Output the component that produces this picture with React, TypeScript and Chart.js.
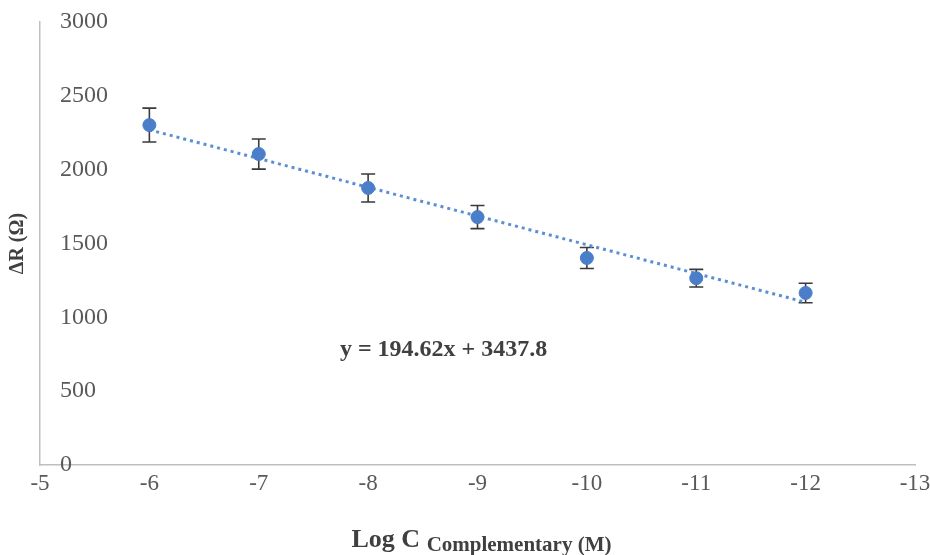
import React, { useEffect, useRef } from "react";
import { Chart, registerables } from "chart.js";

Chart.register(...registerables);

const xValues = [-6, -7, -8, -9, -10, -11, -12];
const yValues = [2302, 2106, 1876, 1679, 1402, 1265, 1165];
const errValues = [115, 102, 95, 78, 71, 60, 66];
const trendX = [-6, -12];
const trendY = [2270, 1102];
const xTicks = [-5, -6, -7, -8, -9, -10, -11, -12, -13];
const yTicks = [0, 500, 1000, 1500, 2000, 2500, 3000];
const equationText = "y = 194.62x + 3437.8";
const equationAt = { x: -8.69, y: 779 };
const yTitle = "ΔR (Ω)";
const xTitleMain = "Log C";
const xTitleSub = "Complementary (M)";

const SERIF = "'Liberation Serif', 'Times New Roman', serif";

const overlayPlugin = {
  id: "overlay",
  beforeDatasetsDraw(chart: any) {
    const { ctx, scales } = chart;
    const xs = scales.x;
    const ys = scales.y;
    ctx.save();
    ctx.strokeStyle = "#3a3a3a";
    ctx.lineWidth = 1.6;
    for (let i = 0; i < xValues.length; i++) {
      const px = xs.getPixelForValue(xValues[i]);
      const top = ys.getPixelForValue(yValues[i] + errValues[i]);
      const bot = ys.getPixelForValue(yValues[i] - errValues[i]);
      ctx.beginPath();
      ctx.moveTo(px, top);
      ctx.lineTo(px, bot);
      ctx.moveTo(px - 7, top);
      ctx.lineTo(px + 7, top);
      ctx.moveTo(px - 7, bot);
      ctx.lineTo(px + 7, bot);
      ctx.stroke();
    }
    ctx.restore();
  },
  afterDraw(chart: any) {
    const { ctx, scales, chartArea } = chart;
    const xs = scales.x;
    const ys = scales.y;
    ctx.save();
    ctx.fillStyle = "#404040";
    ctx.textBaseline = "middle";
    ctx.textAlign = "center";
    ctx.font = `bold 24px ${SERIF}`;
    ctx.fillText(
      equationText,
      xs.getPixelForValue(equationAt.x),
      ys.getPixelForValue(equationAt.y)
    );
    // x axis title with subscript
    ctx.textAlign = "left";
    ctx.textBaseline = "alphabetic";
    const mainFont = `bold 26px ${SERIF}`;
    const subFont = `bold 21px ${SERIF}`;
    ctx.font = mainFont;
    const w1 = ctx.measureText(xTitleMain + " ").width;
    ctx.font = subFont;
    const w2 = ctx.measureText(xTitleSub).width;
    const cx = (chartArea.left + chartArea.right) / 2;
    const startX = cx - (w1 + w2) / 2 + 4;
    const baseY = chart.height - 8;
    ctx.font = mainFont;
    ctx.fillText(xTitleMain + " ", startX, baseY);
    ctx.font = subFont;
    ctx.fillText(xTitleSub, startX + w1, baseY + 4);
    ctx.restore();
  },
};

export default function App() {
  const canvasRef = useRef<HTMLCanvasElement | null>(null);

  useEffect(() => {
    if (!canvasRef.current) return;
    const chart = new Chart(canvasRef.current, {
      type: "scatter",
      data: {
        datasets: [
          {
            label: "ΔR",
            data: xValues.map((x, i) => ({ x, y: yValues[i] })),
            backgroundColor: "#4a7ec8",
            borderColor: "#4a7ec8",
            pointRadius: 6.5,
            pointHoverRadius: 6.5,
            showLine: false,
          },
          {
            label: "Trend",
            type: "line",
            data: trendX.map((x, i) => ({ x, y: trendY[i] })),
            borderColor: "#5b8fd3",
            borderWidth: 3,
            borderDash: [3, 4],
            pointRadius: 0,
            fill: false,
          } as any,
        ],
      },
      options: {
        animation: false,
        responsive: true,
        maintainAspectRatio: false,
        layout: { padding: { top: 22, right: 15, left: 0, bottom: 0 } },
        plugins: {
          legend: { display: false },
          tooltip: { enabled: false },
        },
        scales: {
          x: {
            type: "linear",
            min: -13,
            max: -5,
            reverse: true,
            afterBuildTicks: (scale: any) => {
              scale.ticks = xTicks.map((v) => ({ value: v }));
            },
            afterFit: (scale: any) => {
              scale.height = 90;
              scale.paddingLeft = 0;
              scale.paddingRight = 0;
            },
            grid: { display: false, drawTicks: false },
            border: { display: true, color: "#bfbfbf", width: 1.5 },
            ticks: {
              color: "#595959",
              font: { family: SERIF, size: 23 },
              padding: 5,
              maxRotation: 0,
              autoSkip: false,
              callback: (v: any) => String(v),
            },
          },
          y: {
            type: "linear",
            min: 0,
            max: 3000,
            afterBuildTicks: (scale: any) => {
              scale.ticks = yTicks.map((v) => ({ value: v }));
            },
            afterFit: (scale: any) => {
              scale.width = 40;
              scale.paddingTop = 0;
              scale.paddingBottom = 0;
            },
            grid: { display: false, drawTicks: false },
            border: { display: true, color: "#bfbfbf", width: 1.5 },
            title: {
              display: true,
              text: yTitle,
              color: "#404040",
              font: { family: SERIF, size: 20, weight: "bold" },
              padding: { top: 6, bottom: 0 },
            },
            ticks: {
              mirror: true,
              color: "#595959",
              font: { family: SERIF, size: 24 },
              padding: 20,
              autoSkip: false,
              callback: (v: any) => String(v),
            },
          },
        },
      } as any,
      plugins: [overlayPlugin],
    });
    return () => chart.destroy();
  }, []);

  return (
    <div
      style={{
        position: "absolute",
        left: 0,
        top: 0,
        width: 930,
        height: 555,
        background: "#ffffff",
      }}
    >
      <canvas ref={canvasRef} />
    </div>
  );
}
